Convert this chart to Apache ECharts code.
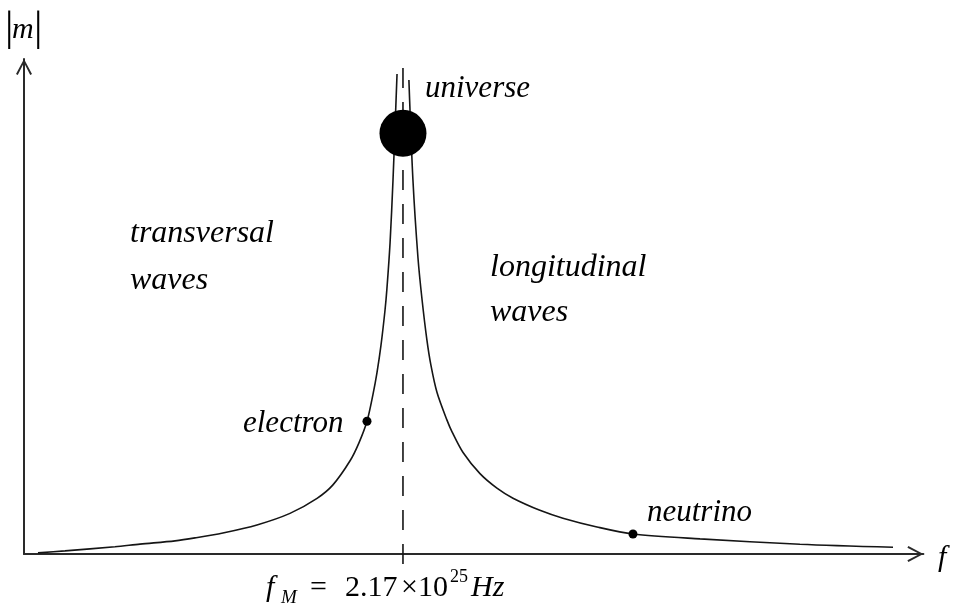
<!DOCTYPE html>
<html>
<head>
<meta charset="utf-8">
<script src="https://cdn.jsdelivr.net/npm/echarts@6/dist/echarts.min.js"></script>
<style>
  html, body { margin: 0; padding: 0; background: #fff; }
  #chart { width: 953px; height: 603px; }
</style>
</head>
<body>
<div id="chart"></div>
<script>
// Frequency f in units of 10^25 Hz, mass |m| in arbitrary units.
const fM = 2.17;

// Transversal branch (f < f_M)
const leftF = [0.080, 0.235, 0.521, 0.664, 0.865, 0.979, 1.139, 1.334, 1.523, 1.678, 1.769, 1.867,
               1.918, 1.964, 1.998, 2.021, 2.044, 2.067, 2.078, 2.096, 2.113, 2.124, 2.136];
const leftM = [0.22, 0.63, 1.47, 2.00, 2.66, 3.25, 4.25, 5.87, 8.21, 11.25, 13.97, 18.83,
               22.46, 26.81, 32.20, 36.59, 42.14, 49.19, 53.55, 62.80, 75.60, 85.69, 96.98];

// Longitudinal branch (f > f_M)
const rightF = [2.204, 2.227, 2.256, 2.279, 2.307, 2.330, 2.365, 2.422, 2.451, 2.514, 2.611,
                2.708, 2.800, 2.954, 3.086, 3.281, 3.487, 3.871, 4.443, 4.976];
const rightM = [95.77, 75.60, 59.81, 51.47, 43.26, 38.16, 32.62, 27.04, 24.68, 20.50, 16.23,
                13.30, 11.27, 8.83, 7.24, 5.46, 4.03, 3.06, 1.98, 1.36];

// Marked particles
const particleNames = ['electron', 'neutrino'];
const particleF = [1.964, 3.487];
const particleM = [26.81, 4.03];
const universe = [2.17, 85.0];

// Vertical marker at f_M (extends a little past the axes)
const markerM = [-2.0, 99.2];

const zip = (a, b) => a.map((v, i) => [v, b[i]]);

const ink = '#151515';
const serif = '"Liberation Serif", "DejaVu Serif", "Times New Roman", serif';

function label(text, x, baseline, size, italic) {
  return {
    type: 'text',
    x: x,
    y: baseline - 0.8 * size,
    silent: true,
    style: {
      text: text,
      fill: '#000',
      font: (italic ? 'italic ' : '') + size + 'px ' + serif,
      textAlign: 'left',
      textVerticalAlign: 'top'
    }
  };
}

const chevron = 'path://M5,0 L10,9.4 L8.9,10 L5,2.4 L1.1,10 L0,9.4 Z';

const axisLine = {
  show: true,
  lineStyle: { color: '#2a2a2a', width: 2 },
  symbol: ['none', chevron],
  symbolSize: [16, 16],
  symbolOffset: [0, -8]
};

const chart = echarts.init(document.getElementById('chart'), null, { renderer: 'canvas' });

chart.setOption({
  animation: false,
  backgroundColor: '#fff',
  grid: { left: 24, top: 59, right: 29.6, bottom: 49, containLabel: false },
  xAxis: {
    type: 'value', min: 0, max: 5.15,
    axisLine: axisLine,
    axisTick: { show: false }, axisLabel: { show: false }, splitLine: { show: false }
  },
  yAxis: {
    type: 'value', min: 0, max: 100,
    axisLine: axisLine,
    axisTick: { show: false }, axisLabel: { show: false }, splitLine: { show: false }
  },
  series: [
    {
      type: 'line', data: zip(leftF, leftM), showSymbol: false, smooth: 0.3,
      lineStyle: { color: ink, width: 1.6 }, z: 3
    },
    {
      type: 'line', data: zip(rightF, rightM), showSymbol: false, smooth: 0.3,
      lineStyle: { color: ink, width: 1.6 }, z: 3
    },
    {
      type: 'line', data: markerM.map(m => [fM, m]), showSymbol: false, clip: false,
      lineStyle: { color: ink, width: 1.6, type: [20, 14] }, z: 2
    },
    {
      type: 'scatter', data: zip(particleF, particleM), symbolSize: 9,
      itemStyle: { color: '#000', opacity: 1 }, z: 5
    },
    {
      type: 'scatter', data: [universe], symbolSize: 47,
      itemStyle: { color: '#000', opacity: 1 }, z: 6
    }
  ],
  graphic: [
    label('|', 5, 42, 42, false),
    label('m', 12, 39, 30, true),
    label('|', 34, 42, 42, false),
    label('universe', 425, 98, 31, true),
    label('transversal', 130, 243, 32, true),
    label('waves', 130, 290, 32, true),
    label('longitudinal', 490, 277, 32, true),
    label('waves', 490, 322, 32, true),
    label(particleNames[0], 243, 433, 31, true),
    label(particleNames[1], 647, 522, 31, true),
    label('f', 938, 567, 30, true),
    label('f', 266, 597, 30, true),
    label('M', 281, 604, 19, true),
    label('=', 310, 597, 30, false),
    label('2.17', 345, 597, 30, false),
    label('×', 401, 597, 30, false),
    label('10', 418, 597, 30, false),
    label('25', 450, 583, 18, false),
    label('Hz', 471, 597, 30, true)
  ]
});
</script>
</body>
</html>
